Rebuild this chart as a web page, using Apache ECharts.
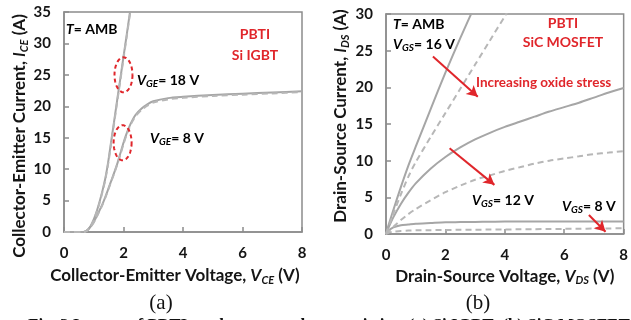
<!DOCTYPE html>
<html>
<head>
<meta charset="utf-8">
<script src="https://cdn.jsdelivr.net/npm/echarts@6/dist/echarts.min.js"></script>
<style>
  html, body { margin: 0; padding: 0; background: #fff; }
  #chart { width: 631px; height: 320px; }
</style>
</head>
<body>
<div id="chart"></div>
<script>
// ---- (a) Si IGBT output characteristics ----
const igbtVce = [0, 0.6, 0.7, 0.8, 0.9, 1.0, 1.1, 1.2, 1.3, 1.4, 1.5, 1.6, 1.7, 1.8, 1.9, 2.0, 2.1, 2.2, 2.3, 2.4, 2.6, 2.8, 3.0, 3.5, 4, 5, 6, 7, 8];
const igbt18Fresh = [0, 0, 0.05, 0.35, 1.0, 2.0, 3.3, 4.9, 6.7, 8.8, 11.6, 14.9, 18.1, 21.4, 24.6, 27.9, 31.1, 34.4, 37.6, null, null, null, null, null, null, null, null, null, null];
const igbt18Stress = [0, 0, 0.03, 0.3, 0.9, 1.9, 3.2, 4.7, 6.5, 8.6, 11.3, 14.6, 17.8, 21.1, 24.3, 27.6, 30.8, 34.1, 37.3, null, null, null, null, null, null, null, null, null, null];
const igbt8Fresh = [0, 0, 0.05, 0.35, 0.9, 1.6, 2.5, 3.5, 4.5, 5.7, 7.0, 8.3, 9.6, 11.0, 12.6, 14.2, 15.6, 16.8, 17.8, 18.6, 19.6, 20.3, 20.8, 21.3, 21.5, 21.8, 22.0, 22.2, 22.4];
const igbt8Stress = [0, 0, 0.03, 0.3, 0.85, 1.5, 2.4, 3.4, 4.4, 5.6, 6.9, 8.2, 9.5, 10.9, 12.4, 14.0, 15.4, 16.6, 17.6, 18.4, 19.4, 20.1, 20.6, 21.1, 21.35, 21.65, 21.85, 22.05, 22.25];

// ---- (b) SiC MOSFET output characteristics ----
const sicVds = [0, 0.1, 0.25, 0.5, 0.75, 1, 1.5, 2, 2.5, 3, 3.5, 4, 4.5, 5, 5.5, 6, 6.5, 7, 7.5, 8];
const sic16Fresh = [0, 1.4, 3.3, 6.4, 9.3, 11.9, 17.0, 22.0, 26.7, 31.2, 35.5, null, null, null, null, null, null, null, null, null];
const sic16Stress = [0, 1.1, 2.8, 5.4, 7.8, 9.8, 13.2, 16.5, 19.8, 23.1, 26.4, 29.7, 33.0, null, null, null, null, null, null, null];
const sic12Fresh = [0, 1.0, 2.3, 4.1, 5.6, 6.9, 8.9, 10.5, 11.8, 12.9, 13.8, 14.6, 15.3, 16.0, 16.7, 17.3, 17.9, 18.6, 19.3, 19.9];
const sic12Stress = [0, 0.4, 1.0, 1.9, 2.7, 3.4, 4.6, 5.7, 6.6, 7.4, 8.0, 8.6, 9.1, 9.6, 10.0, 10.3, 10.6, 10.9, 11.1, 11.3];
const sic8Fresh = [0, 0.5, 0.9, 1.2, 1.3, 1.4, 1.5, 1.6, 1.62, 1.65, 1.67, 1.7, 1.7, 1.7, 1.7, 1.7, 1.7, 1.7, 1.7, 1.7];
const sic8Stress = [0, 0.2, 0.3, 0.42, 0.47, 0.5, 0.52, 0.55, 0.57, 0.59, 0.6, 0.62, 0.64, 0.66, 0.68, 0.7, 0.72, 0.74, 0.76, 0.78];

// axis ticks
const igbtXTicks = [0, 2, 4, 6, 8];
const igbtYTicks = [0, 5, 10, 15, 20, 25, 30, 35];
const sicXTicks = [0, 2, 4, 6, 8];
const sicYTicks = [0, 5, 10, 15, 20, 25, 30];

const FONT = 'Lato';
const INK = '#151515';
const RED = '#e0262b';
const AXIS = '#8c8c8c';
const SOLID = '#a6a6a6';
const DASH = '#b7b7b7';

function pairs(xs, ys) {
  return xs.map((x, i) => [x, ys[i]]);
}

function curve(name, xi, xs, ys, dashed) {
  return {
    name, type: 'line', xAxisIndex: xi, yAxisIndex: xi,
    data: pairs(xs, ys), showSymbol: false, smooth: 0.25, connectNulls: false,
    lineStyle: { color: dashed ? DASH : SOLID, width: 2, type: dashed ? [6, 4] : 'solid' },
    z: dashed ? 3 : 2, silent: true
  };
}

const richSub = {
  v: { fontFamily: FONT, fontWeight: 'bold', fontStyle: 'italic', fontSize: 14, color: INK },
  s: { fontFamily: FONT, fontWeight: 'bold', fontStyle: 'italic', fontSize: 10, color: INK, padding: [7, 0, 0, 0] },
  n: { fontFamily: FONT, fontWeight: 'bold', fontSize: 14, color: INK }
};

function valueAxis(grid, ticks, name, nameGap, padding, isX) {
  return {
    type: 'value', gridIndex: grid,
    min: ticks[0], max: ticks[ticks.length - 1], interval: ticks[1] - ticks[0],
    name, nameLocation: 'middle', nameGap,
    nameTextStyle: {
      fontFamily: FONT, fontWeight: 'bold', fontSize: 17, color: INK, padding,
      rich: {
        t: { fontFamily: FONT, fontWeight: 'bold', fontSize: 17, color: INK },
        i: { fontFamily: FONT, fontWeight: 'bold', fontStyle: 'italic', fontSize: 17, color: INK },
        sub: { fontFamily: FONT, fontWeight: 'bold', fontStyle: 'italic', fontSize: 11, color: INK, padding: [9, 0, 0, 0] }
      }
    },
    axisLine: { show: true, onZero: false, lineStyle: { color: AXIS, width: 1.5 } },
    axisTick: { show: true, inside: true, length: 5, lineStyle: { color: AXIS, width: 1.5 } },
    axisLabel: { fontFamily: FONT, fontWeight: 'bold', fontSize: 15, color: INK, margin: isX ? 14 : 13 },
    splitLine: { show: false }
  };
}

const chart = echarts.init(document.getElementById('chart'), null, { renderer: 'canvas' });

const option = {
  animation: false,
  backgroundColor: '#fff',
  grid: [
    { left: 64, top: 12, width: 238, height: 220, show: true, borderColor: AXIS, borderWidth: 1.5, backgroundColor: 'transparent' },
    { left: 386, top: 14, width: 239, height: 220, show: true, borderColor: AXIS, borderWidth: 1.5, backgroundColor: 'transparent' }
  ],
  xAxis: [
    valueAxis(0, igbtXTicks, '{t|Collector-Emitter Voltage, }{i|V}{sub|CE}{t| (V)}', 34, [0, 16, 0, 0], true),
    valueAxis(1, sicXTicks, '{t|Drain-Source Voltage, }{i|V}{sub|DS}{t| (V)}', 31, [0, 0, 0, 0], true)
  ],
  yAxis: [
    valueAxis(0, igbtYTicks, '{t|Collector-Emitter Current, }{i|I}{sub|CE}{t| (A)}', 34, [0, 28, 0, 0], false),
    valueAxis(1, sicYTicks, '{t|Drain-Source Current, }{i|I}{sub|DS}{t| (A)}', 35, [0, 0, 0, 16], false)
  ],
  series: [
    curve('IGBT 18 V', 0, igbtVce, igbt18Fresh, false),
    curve('IGBT 18 V stressed', 0, igbtVce, igbt18Stress, true),
    curve('IGBT 8 V', 0, igbtVce, igbt8Fresh, false),
    curve('IGBT 8 V stressed', 0, igbtVce, igbt8Stress, true),
    {
      // dashed red rings around the two gate-voltage curves
      type: 'custom', xAxisIndex: 0, yAxisIndex: 0, silent: true, z: 5,
      data: [[2.0, 25.0], [1.97, 14.2]],
      renderItem: function (params, api) {
        const c = api.coord([api.value(0), api.value(1)]);
        const pts = [];
        for (let k = 0; k <= 60; k++) {
          const a = (k / 60) * Math.PI * 2;
          pts.push([c[0] + 9 * Math.cos(a), c[1] + 17.5 * Math.sin(a)]);
        }
        return {
          type: 'polyline', shape: { points: pts },
          style: { fill: 'none', stroke: RED, lineWidth: 2, lineDash: [4, 3] }
        };
      }
    },
    curve('SiC 16 V', 1, sicVds, sic16Fresh, false),
    curve('SiC 16 V stressed', 1, sicVds, sic16Stress, true),
    curve('SiC 12 V', 1, sicVds, sic12Fresh, false),
    curve('SiC 12 V stressed', 1, sicVds, sic12Stress, true),
    curve('SiC 8 V', 1, sicVds, sic8Fresh, false),
    Object.assign(curve('SiC 8 V stressed', 1, sicVds, sic8Stress, true), {
      markLine: {
        silent: true, symbol: ['none', 'arrow'], symbolSize: [9, 11],
        label: { show: false },
        lineStyle: { color: RED, width: 2, type: 'solid' },
        data: [
          [{ coord: [1.58, 24.2] }, { coord: [3.09, 18.7] }],
          [{ coord: [2.14, 11.7] }, { coord: [3.65, 6.7] }],
          [{ coord: [6.83, 2.6] }, { coord: [7.39, 0.3] }]
        ]
      }
    })
  ],
  graphic: [
    { type: 'text', x: 66, y: 29, style: { text: '{v|T}{n|= AMB}', rich: richSub, verticalAlign: 'middle' } },
    { type: 'text', x: 255, y: 34, style: { text: 'PBTI', fill: RED, font: 'bold 14px ' + FONT, align: 'center', verticalAlign: 'middle' } },
    { type: 'text', x: 255, y: 55, style: { text: 'Si IGBT', fill: RED, font: 'bold 14px ' + FONT, align: 'center', verticalAlign: 'middle' } },
    { type: 'text', x: 137, y: 80, style: { text: '{v|V}{s|GE}{n|= 18 V}', rich: richSub, verticalAlign: 'middle' } },
    { type: 'text', x: 150, y: 138, style: { text: '{v|V}{s|GE}{n|= 8 V}', rich: richSub, verticalAlign: 'middle' } },

    { type: 'text', x: 393, y: 24, style: { text: '{v|T}{n|= AMB}', rich: richSub, verticalAlign: 'middle' } },
    { type: 'text', x: 393, y: 44, style: { text: '{v|V}{s|GS}{n|= 16 V}', rich: richSub, verticalAlign: 'middle' } },
    { type: 'text', x: 563, y: 23, style: { text: 'PBTI', fill: RED, font: 'bold 14px ' + FONT, align: 'center', verticalAlign: 'middle' } },
    { type: 'text', x: 563, y: 42, style: { text: 'SiC MOSFET', fill: RED, font: 'bold 14px ' + FONT, align: 'center', verticalAlign: 'middle' } },
    { type: 'text', x: 476, y: 83, style: { text: 'Increasing oxide stress', fill: RED, font: 'bold 13.5px ' + FONT, verticalAlign: 'middle' } },
    { type: 'text', x: 472, y: 200, style: { text: '{v|V}{s|GS}{n|= 12 V}', rich: richSub, verticalAlign: 'middle' } },
    { type: 'text', x: 562, y: 206, style: { text: '{v|V}{s|GS}{n|= 8 V}', rich: richSub, verticalAlign: 'middle' } },

    { type: 'text', x: 161, y: 303, style: { text: '(a)', fill: '#111', font: '21px "Liberation Serif"', align: 'center', verticalAlign: 'middle' } },
    { type: 'text', x: 478, y: 303, style: { text: '(b)', fill: '#111', font: '21px "Liberation Serif"', align: 'center', verticalAlign: 'middle' } },
    { type: 'text', x: 28, y: 317, style: { text: 'Fig. 3 Impact of PBTI on the output characteristics: (a) Si IGBT; (b) SiC MOSFET.', fill: '#111', font: 'bold 17px "Liberation Serif"', verticalAlign: 'top' } }
  ]
};

chart.setOption(option);
</script>
</body>
</html>
